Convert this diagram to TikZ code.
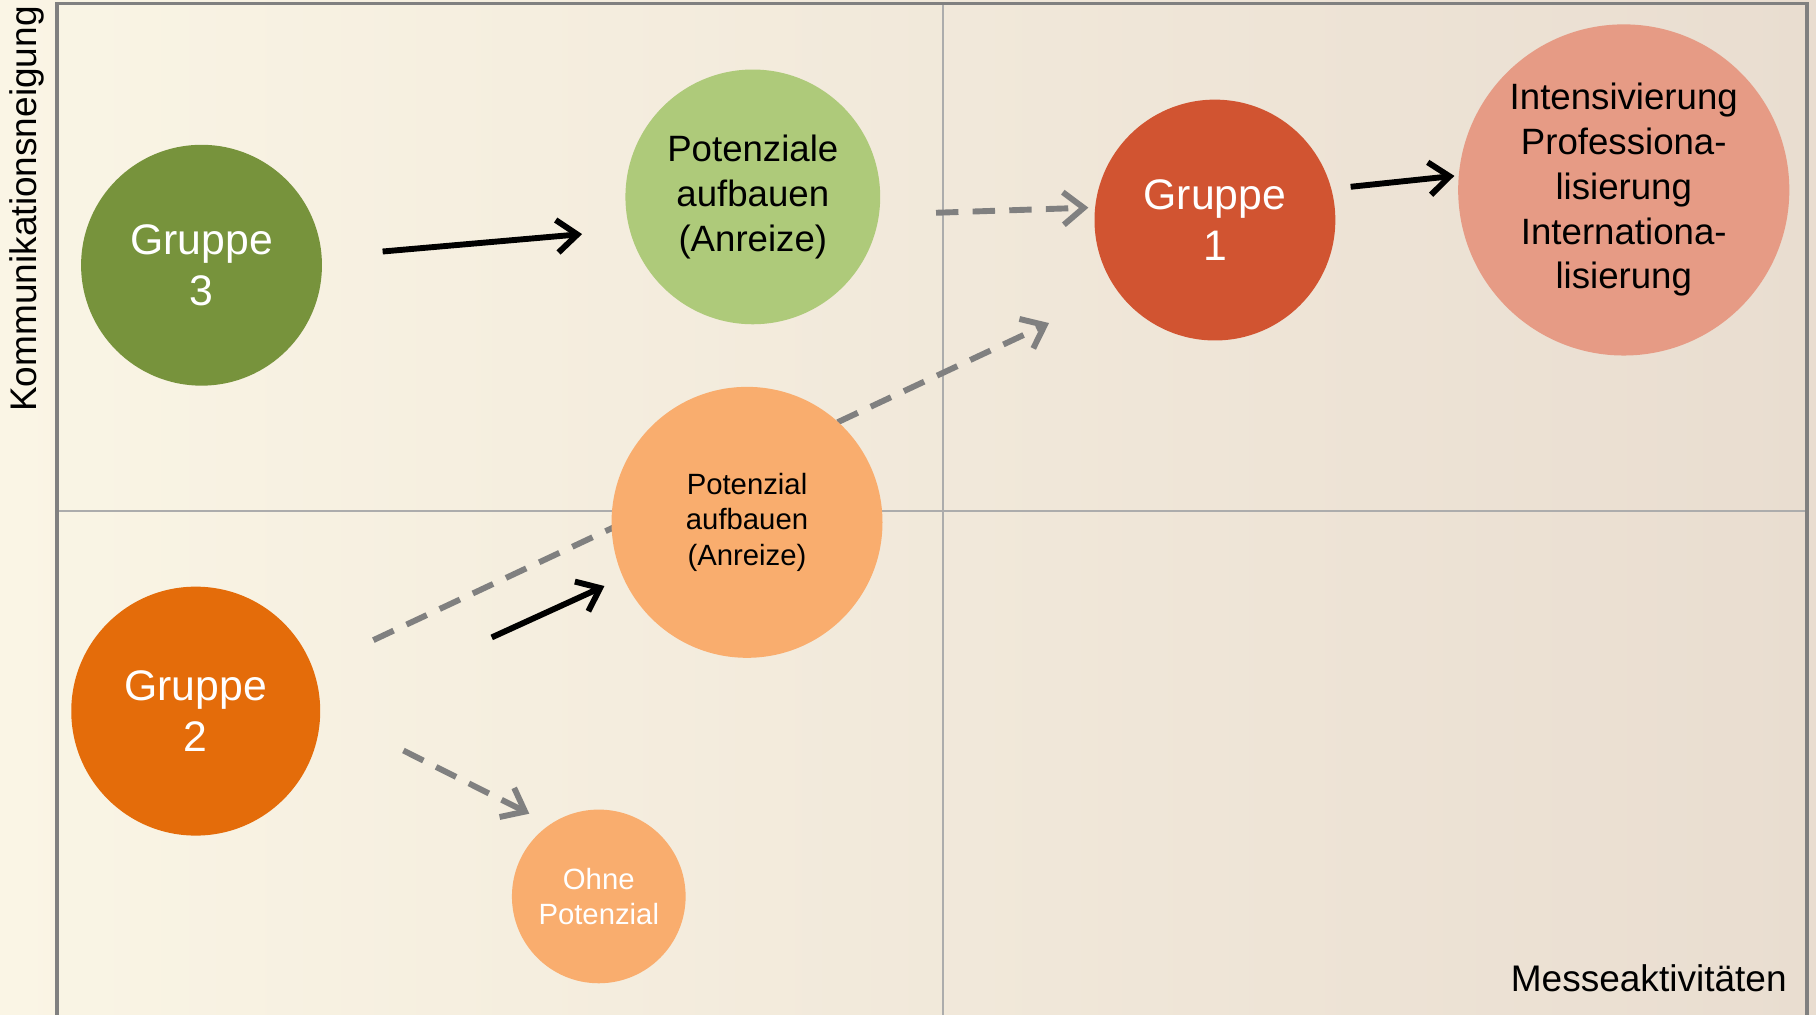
\documentclass[tikz,border=0pt]{standalone}
\usepackage{fontspec}
\setmainfont{Liberation Sans}
\usetikzlibrary{arrows.meta}
\definecolor{bgleft}{RGB}{250,245,229}
\definecolor{bgright}{RGB}{233,221,208}
\definecolor{framegray}{RGB}{128,128,128}
\definecolor{divgray}{RGB}{172,172,172}
\definecolor{arrowgray}{RGB}{128,128,128}
\definecolor{grpthree}{RGB}{119,147,60}
\definecolor{lightgreen}{RGB}{174,202,122}
\definecolor{grpone}{RGB}{209,84,49}
\definecolor{salmon}{RGB}{230,155,133}
\definecolor{lightorange}{RGB}{249,173,110}
\definecolor{grptwo}{RGB}{228,108,10}

\begin{document}
\begin{tikzpicture}[x=0.02cm, y=-0.02cm,
    blob/.style={circle, inner sep=0pt, align=center},
    bigtext/.style={font=\fontsize{21}{25}\selectfont},
    midtext/.style={font=\fontsize{18}{22}\selectfont},
    smalltext/.style={font=\fontsize{14.4}{17.6}\selectfont},
    solidarrow/.style={draw=black, line width=2.9pt, -{Straight Barb[length=10pt,width=16pt]}},
    dasharrow/.style={draw=arrowgray, line width=2.9pt, dash pattern=on 11pt off 7pt, -{Straight Barb[length=10pt,width=16pt]}}
]
\useasboundingbox (0,0) rectangle (1568,876);

% Background
\shade[left color=bgleft, right color=bgright] (0,0) rectangle (1568,876);

% Quadrant lines
\draw[divgray, line width=0.9pt] (814,3) -- (814,876);
\draw[divgray, line width=0.9pt] (49,441) -- (1560,441);

% Frame
\draw[framegray, line width=1.8pt] (49,876) -- (49,3) -- (1560,3) -- (1560,876);

% Axis labels
\node[rotate=90, anchor=east, inner sep=0pt, font=\fontsize{18.2}{22}\selectfont] (yaxis) at (23,5) {Kommunikationsneigung};
\node[anchor=east, inner sep=0pt, font=\fontsize{18.2}{22}\selectfont] (xaxis) at (1543,845) {Messeaktivitäten};

% Groups
\node[blob, fill=grpthree, minimum size=4.16cm, text=white, bigtext] (g3) at (174,229) {Gruppe\\3};
\node[blob, fill=lightgreen, minimum size=4.4cm, midtext] (pa) at (650,170) {Potenziale\\aufbauen\\(Anreize)};
\node[blob, fill=grpone, minimum size=4.16cm, text=white, bigtext] (g1) at (1049,190) {Gruppe\\1};
\node[blob, fill=salmon, minimum size=5.72cm, midtext] (int) at (1402,164) {Intensivierung\\Professiona-\\lisierung\\Internationa-\\lisierung};
\node[blob, fill=grptwo, minimum size=4.3cm, text=white, bigtext] (g2) at (169,614) {Gruppe\\2};
\node[blob, fill=lightorange, minimum size=3cm, text=white, smalltext] (ohne) at (517,774) {Ohne\\Potenzial};

% Long dashed path behind the middle circle
\draw[dasharrow, shorten <=1.15cm, shorten >=1.3cm] (g2.20.8) -- (g1.216.5);

\node[blob, fill=lightorange, minimum size=4.68cm, smalltext] (pb) at (645,451) {Potenzial\\aufbauen\\(Anreize)};

% Arrows
\draw[solidarrow, shorten <=1.05cm, shorten >=0.82cm] (g3.4) -- (pa.195);
\draw[dasharrow, shorten <=0.98cm, shorten >=0.11cm] (pa.-8) -- (g1.174);
\draw[solidarrow, shorten <=0.33cm, shorten >=0.07cm] (g1.15) -- (int.175);
\draw[solidarrow, shorten <=3.25cm, shorten >=0.35cm] (g2.-2) -- (pb.204);
\draw[dasharrow, shorten <=1.6cm, shorten >=0.4cm] (g2.1) -- (ohne.124);

\end{tikzpicture}
\end{document}
